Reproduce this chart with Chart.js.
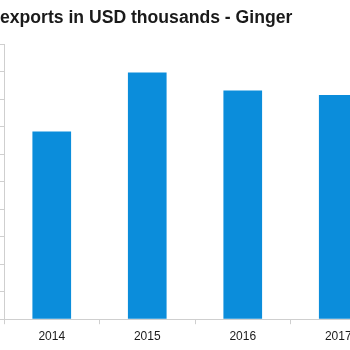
<!DOCTYPE html>
<html>
<head>
<meta charset="utf-8">
<script src="https://cdn.jsdelivr.net/npm/chart.js@4/dist/chart.umd.min.js"></script>
<style>
  html, body { margin: 0; padding: 0; background: #ffffff; overflow: hidden; width: 350px; height: 350px; }
  #wrap { position: absolute; left: 0; top: 0; width: 390px; height: 350px; }
</style>
</head>
<body>
<div id="wrap"><canvas id="c"></canvas></div>
<script>
const titleText = "exports in USD thousands - Ginger";
const categories = ["2014", "2015", "2016", "2017"];
const exportValues = [6.82, 8.97, 8.31, 8.15];
const yMin = 0;
const yMax = 10;
const yStep = 1;

new Chart(document.getElementById('c'), {
  type: 'bar',
  data: {
    labels: categories,
    datasets: [{
      data: exportValues,
      backgroundColor: '#0b8ddb',
      borderWidth: 0,
      categoryPercentage: 1.0,
      barPercentage: 0.405
    }]
  },
  options: {
    responsive: true,
    maintainAspectRatio: false,
    animation: false,
    layout: { padding: { left: 0, right: 4, top: 0, bottom: 1 } },
    plugins: {
      legend: { display: false },
      tooltip: { enabled: false },
      title: {
        display: true,
        text: titleText,
        align: 'start',
        color: '#1a1a1a',
        font: { family: 'Liberation Sans, Arial, sans-serif', size: 17.6, weight: 'bold' },
        padding: { top: 8, bottom: 15 }
      }
    },
    scales: {
      x: {
        grid: { display: true, drawOnChartArea: false, drawTicks: true, tickLength: 5, color: '#cfcfcf', offset: true },
        border: { display: true, color: '#cfcfcf', width: 1 },
        ticks: { color: '#1a1a1a', font: { family: 'Liberation Sans, Arial, sans-serif', size: 12 }, padding: 5.2, maxRotation: 0 }
      },
      y: {
        min: yMin,
        max: yMax,
        grid: { display: true, drawOnChartArea: false, drawTicks: true, tickLength: 4, color: '#cfcfcf' },
        border: { display: true, color: '#cfcfcf', width: 1 },
        ticks: { display: false, stepSize: yStep }
      }
    }
  }
});
</script>
</body>
</html>
